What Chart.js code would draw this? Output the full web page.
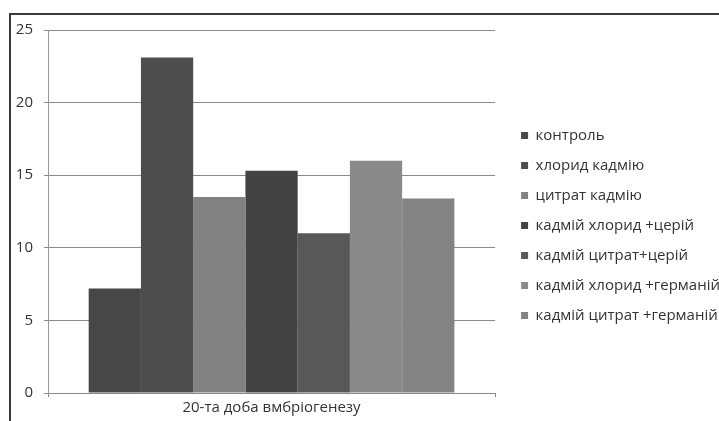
<!DOCTYPE html>
<html>
<head>
<meta charset="utf-8">
<script src="https://cdn.jsdelivr.net/npm/chart.js@4.4.1/dist/chart.umd.min.js"></script>
<style>
html, body { margin: 0; padding: 0; background: #fff; overflow: hidden; }
#wrap { position: relative; width: 719px; height: 421px; }
#frame { position: absolute; left: 9px; top: 13px; width: 720px; height: 420px;
         border-left: 2px solid #3a3a3a; border-top: 2px solid #3a3a3a; pointer-events: none; }
</style>
</head>
<body>
<div id="wrap">
  <canvas id="chart" width="719" height="421"></canvas>
  <div id="frame"></div>
</div>
<script>
// дані діаграми
const categories = ['20-та доба вмбріогенезу'];
const seriesNames = [
    'контроль',
    'хлорид кадмію',
    'цитрат кадмію',
    'кадмій хлорид +церій',
    'кадмій цитрат+церій',
    'кадмій хлорид +германій',
    'кадмій цитрат +германій'
];
const seriesValues = [7.2, 23.1, 13.5, 15.3, 11.0, 16.0, 13.4];
const seriesColors = ['#474747', '#4d4d4d', '#828282', '#424242', '#585858', '#8a8a8a', '#838383'];
const yTicks = [0, 5, 10, 15, 20, 25];

const FONT = { family: '"Open Sans", sans-serif', size: 15 };

// набори даних: по одному стовпчику на серію
const datasets = seriesNames.map((name, i) => ({
    label: name,
    data: [seriesValues[i]],
    backgroundColor: seriesColors[i],
    borderWidth: 0,
    categoryPercentage: 0.818,
    barPercentage: 1.0
}));

// зсув легенди праворуч від області графіка
const legendShift = {
    id: 'legendShift',
    afterLayout(chart) {
        chart.legend.left += 11;
        chart.legend.right += 11;
    }
};

function drawChart() {
    const ctx = document.getElementById('chart').getContext('2d');
    window.myChart = new Chart(ctx, {
        type: 'bar',
        data: { labels: categories, datasets: datasets },
        plugins: [legendShift],
        options: {
            responsive: false,
            animation: false,
            layout: { padding: { top: 30, left: 0, right: 0, bottom: 0 } },
            scales: {
                x: {
                    grid: { drawOnChartArea: false, tickLength: 4, color: '#888' },
                    border: { color: '#888', width: 1 },
                    ticks: { color: '#333', font: FONT, padding: 2 },
                    afterFit: (scale) => { scale.height = 28; }
                },
                y: {
                    min: yTicks[0],
                    max: yTicks[yTicks.length - 1],
                    afterBuildTicks: (scale) => { scale.ticks = yTicks.map(v => ({ value: v })); },
                    grid: { color: '#8a8a8a', lineWidth: 1, tickLength: 4 },
                    border: { color: '#999', width: 1 },
                    ticks: { color: '#333', font: FONT, padding: 11 },
                    afterFit: (scale) => { scale.width = 48; }
                }
            },
            plugins: {
                legend: {
                    position: 'right',
                    maxWidth: 260,
                    labels: {
                        color: '#333',
                        font: FONT,
                        boxWidth: 7,
                        boxHeight: 7,
                        padding: 15
                    }
                },
                tooltip: { enabled: false }
            }
        }
    });
}

// чекаємо на шрифт, щоб легенда мала правильну ширину
document.fonts.load('15px "Open Sans"').then(drawChart, drawChart);
</script>
</body>
</html>
